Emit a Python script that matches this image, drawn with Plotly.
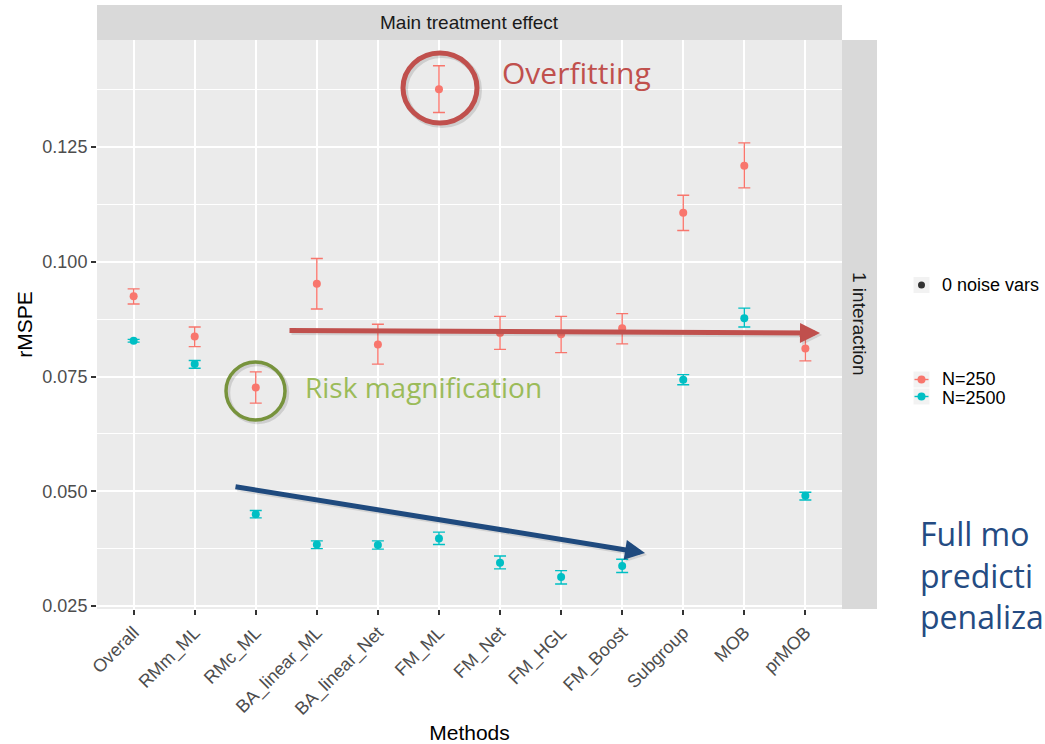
import plotly.graph_objects as go

# ---------------- data ----------------
methods = ["Overall", "RMm_ML", "RMc_ML", "BA_linear_ML", "BA_linear_Net", "FM_ML",
           "FM_Net", "FM_HGL", "FM_Boost", "Subgroup", "MOB", "prMOB"]

n250_mean = [0.0925, 0.0837, 0.0726, 0.0952, 0.0820, 0.1376, 0.0845, 0.0842, 0.0855, 0.1107, 0.1209, 0.0811]
n250_low  = [0.0908, 0.0815, 0.0692, 0.0897, 0.0777, 0.1325, 0.0809, 0.0802, 0.0821, 0.1068, 0.1161, 0.0784]
n250_high = [0.0941, 0.0858, 0.0760, 0.1007, 0.0864, 0.1427, 0.0881, 0.0881, 0.0887, 0.1145, 0.1259, 0.0838]

n2500_mean = [0.0828, 0.0777, 0.0450, 0.0384, 0.0383, 0.0397, 0.0344, 0.0313, 0.0337, 0.0743, 0.0877, 0.0490]
n2500_low  = [0.0825, 0.0768, 0.0442, 0.0375, 0.0374, 0.0384, 0.0331, 0.0298, 0.0323, 0.0732, 0.0858, 0.0481]
n2500_high = [0.0831, 0.0785, 0.0458, 0.0392, 0.0392, 0.0411, 0.0359, 0.0327, 0.0352, 0.0754, 0.0899, 0.0498]

y_ticks = [0.025, 0.050, 0.075, 0.100, 0.125]
y_tick_labels = ["0.025", "0.050", "0.075", "0.100", "0.125"]

series_names = ["N=250", "N=2500"]
series_colors = ["#F8766D", "#00BFC4"]

# ---------------- layout geometry (pixels) ----------------
W, H = 1045, 744
L, R, T, B = 97, 842, 40, 609


def px(x):
    return (x - L) / (R - L)


def py(y):
    return (B - y) / (B - T)


fig = go.Figure()

for name, col, mean, lo, hi in [
    (series_names[0], series_colors[0], n250_mean, n250_low, n250_high),
    (series_names[1], series_colors[1], n2500_mean, n2500_low, n2500_high),
]:
    fig.add_trace(go.Scatter(
        x=methods, y=mean, mode="markers", name=name, showlegend=False,
        marker=dict(color=col, size=8, line=dict(width=0)),
        error_y=dict(type="data", symmetric=False,
                     array=[h - m for h, m in zip(hi, mean)],
                     arrayminus=[m - l for m, l in zip(mean, lo)],
                     color=col, thickness=1.4, width=6),
    ))

axis_font = dict(family="Liberation Sans, Arial, sans-serif", size=18, color="#4d4d4d")

fig.update_layout(
    width=W, height=H,
    margin=dict(l=L, r=W - R, t=T, b=H - B, pad=0),
    paper_bgcolor="white",
    plot_bgcolor="#ebebeb",
    showlegend=False,
    font=dict(family="Liberation Sans, Arial, sans-serif", color="black"),
    xaxis=dict(
        type="category", categoryorder="array", categoryarray=methods,
        range=[-0.6, 11.6], showgrid=True, gridcolor="white", gridwidth=2,
        zeroline=False, showline=False, automargin=False,
        ticks="outside", ticklen=5, tickwidth=2, tickcolor="#333333",
        tickangle=-45, tickfont=axis_font,
        title=dict(text="Methods", font=dict(size=21, color="black"), standoff=14),
    ),
    yaxis=dict(
        range=[0.02435, 0.14831], tickvals=y_ticks, ticktext=y_tick_labels,
        showgrid=True, gridcolor="white", gridwidth=2,
        minor=dict(dtick=0.0125, tick0=0.0125, showgrid=True, gridcolor="white", gridwidth=1, ticklen=0),
        zeroline=False, showline=False, automargin=False,
        ticks="outside", ticklen=5, tickwidth=2, tickcolor="#333333",
        tickfont=axis_font,
        title=dict(text="rMSPE", font=dict(size=21, color="black"), standoff=4),
    ),
)

shapes = []
# facet strips
shapes.append(dict(type="rect", xref="paper", yref="paper", x0=0, x1=1, y0=1, y1=py(5),
                   fillcolor="#d9d9d9", line=dict(width=0), layer="below"))
shapes.append(dict(type="rect", xref="paper", yref="paper", x0=1, x1=px(877), y0=0, y1=1,
                   fillcolor="#d9d9d9", line=dict(width=0), layer="below"))

# circles (with faint shadow)
for (x0, x1, y0, y1, col, w) in [(403, 477, 53, 123, "#c0504d", 5), (226, 285, 362, 420, "#77933c", 3.5)]:
    shapes.append(dict(type="circle", xref="paper", yref="paper",
                       x0=px(x0 + 2), x1=px(x1 + 2), y0=py(y1 + 2), y1=py(y0 + 2),
                       line=dict(color="rgba(0,0,0,0.12)", width=w + 1)))
    shapes.append(dict(type="circle", xref="paper", yref="paper",
                       x0=px(x0), x1=px(x1), y0=py(y1), y1=py(y0),
                       line=dict(color=col, width=w)))

# legend keys
leg_x = 921.5
shapes.append(dict(type="rect", xref="paper", yref="paper", x0=px(leg_x - 8), x1=px(leg_x + 8),
                   y0=py(285 + 8), y1=py(285 - 8), fillcolor="#f2f2f2", line=dict(width=0)))
shapes.append(dict(type="circle", xref="paper", yref="paper", x0=px(leg_x - 3.5), x1=px(leg_x + 3.5),
                   y0=py(285 + 3.5), y1=py(285 - 3.5), fillcolor="#333333", line=dict(width=0)))
for yy, col in [(379.5, series_colors[0]), (396.5, series_colors[1])]:
    shapes.append(dict(type="rect", xref="paper", yref="paper", x0=px(leg_x - 8), x1=px(leg_x + 8),
                       y0=py(yy + 8), y1=py(yy - 8), fillcolor="#f2f2f2", line=dict(width=0)))
    shapes.append(dict(type="line", xref="paper", yref="paper", x0=px(leg_x - 7), x1=px(leg_x + 7),
                       y0=py(yy), y1=py(yy), line=dict(color=col, width=1.4)))
    shapes.append(dict(type="circle", xref="paper", yref="paper", x0=px(leg_x - 4), x1=px(leg_x + 4),
                       y0=py(yy + 4), y1=py(yy - 4), fillcolor=col, line=dict(width=0)))

fig.update_layout(shapes=shapes)

ann = []
strip_font = dict(family="Liberation Sans, Arial, sans-serif", size=19, color="#1a1a1a")
ann.append(dict(xref="paper", yref="paper", x=0.5, y=py(22.5), text="Main treatment effect",
                showarrow=False, font=strip_font, xanchor="center", yanchor="middle"))
ann.append(dict(xref="paper", yref="paper", x=px(859.5), y=0.5, text="1 interaction",
                showarrow=False, font=strip_font, textangle=90, xanchor="center", yanchor="middle"))

# legend texts
leg_font = dict(family="Liberation Sans, Arial, sans-serif", size=18, color="black")
ann.append(dict(xref="paper", yref="paper", x=px(940), y=py(285), text="0 noise vars",
                showarrow=False, font=leg_font, xanchor="left", yanchor="middle"))
ann.append(dict(xref="paper", yref="paper", x=px(940), y=py(379), text="N=250",
                showarrow=False, font=leg_font, xanchor="left", yanchor="middle"))
ann.append(dict(xref="paper", yref="paper", x=px(940), y=py(398), text="N=2500",
                showarrow=False, font=leg_font, xanchor="left", yanchor="middle"))

# callouts
note_font = "Open Sans, Noto Sans, sans-serif"
ann.append(dict(xref="paper", yref="paper", x=px(500), y=py(72), text="Overfitting",
                showarrow=False, font=dict(family=note_font, size=30, color="#c0504d"),
                xanchor="left", yanchor="middle"))
ann.append(dict(xref="paper", yref="paper", x=px(303), y=py(387), text="Risk magnification",
                showarrow=False, font=dict(family=note_font, size=28, color="#9bbb59"),
                xanchor="left", yanchor="middle"))
# the reference crops this note at the right edge; the visible part is reproduced
ann.append(dict(xref="paper", yref="paper", x=px(918), y=py(575),
                text="Full mo<br>predicti<br>penaliza",
                showarrow=False, align="left",
                font=dict(family=note_font, size=32, color="#244b82"),
                xanchor="left", yanchor="middle"))

# arrows (shadow then arrow)
for (tx, ty, sx, sy, col) in [(820, 333, 288, 330.5, "#c0504d"), (645, 553, 234, 486.5, "#1f4a7e")]:
    ann.append(dict(xref="paper", yref="paper", x=px(tx + 2), y=py(ty + 2), ax=sx - tx, ay=sy - ty,
                    axref="pixel", ayref="pixel", text="", showarrow=True,
                    arrowhead=2, arrowsize=0.8, arrowwidth=5, arrowcolor="rgba(0,0,0,0.10)",
                    standoff=0, startstandoff=0))
    ann.append(dict(xref="paper", yref="paper", x=px(tx), y=py(ty), ax=sx - tx, ay=sy - ty,
                    axref="pixel", ayref="pixel", text="", showarrow=True,
                    arrowhead=2, arrowsize=0.8, arrowwidth=5, arrowcolor=col,
                    standoff=0, startstandoff=0))

fig.update_layout(annotations=ann)

fig.write_html("out.html")
